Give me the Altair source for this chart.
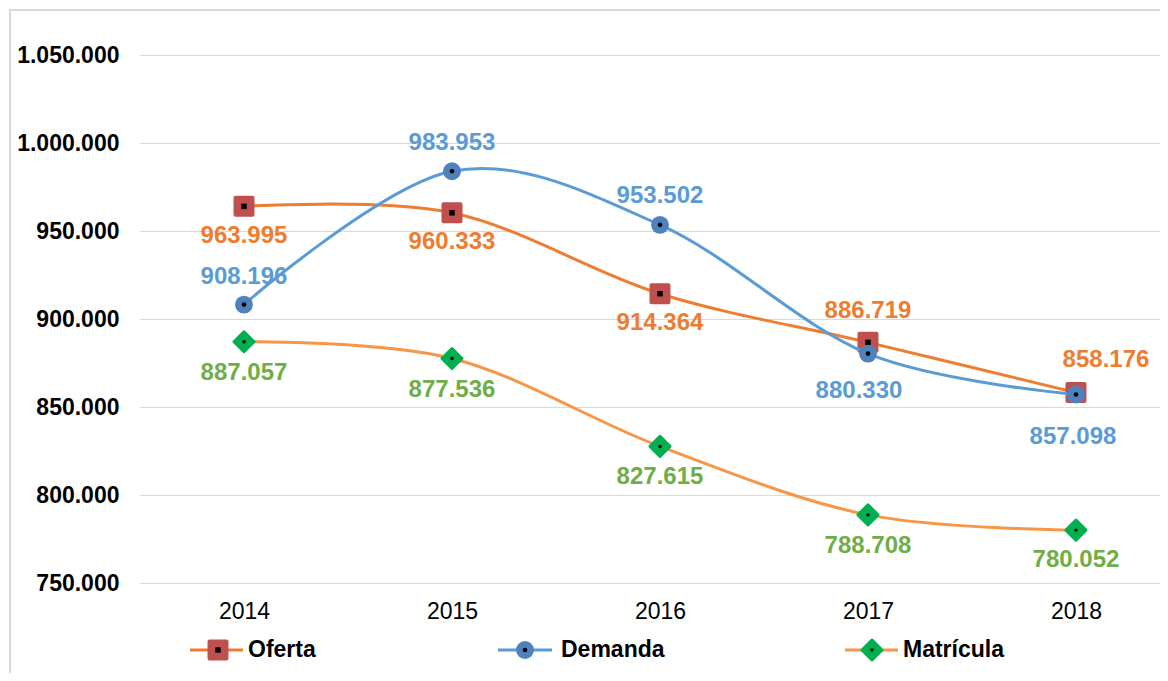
import altair as alt
import pandas as pd

# ---- data ----
years = [2014, 2015, 2016, 2017, 2018]
oferta = [963995, 960333, 914364, 886719, 858176]
demanda = [908196, 983953, 953502, 880330, 857098]
matricula = [887057, 877536, 827615, 788708, 780052]
series_names = ["Oferta", "Demanda", "Matrícula"]
y_ticks = [750000, 800000, 850000, 900000, 950000, 1000000, 1050000]

df = pd.DataFrame({
    "year": years * 3,
    "value": oferta + demanda + matricula,
    "serie": [series_names[0]] * 5 + [series_names[1]] * 5 + [series_names[2]] * 5,
})
legend_df = pd.DataFrame({"serie": series_names})
frame_df = pd.DataFrame({"k": [0]})

FONT = "Liberation Sans"

# ---- styles ----
STYLE = {
    "Oferta": dict(line="#ED7D31", fill="#C0504D", label="#ED7D31", shape="square",
                   size=289, sw=4, dot_shape="square", dot_size=30),
    "Demanda": dict(line="#5B9BD5", fill="#4F81BD", label="#5B9BD5", shape="circle",
                    size=320, sw=0, dot_shape="circle", dot_size=22),
    "Matrícula": dict(line="#F79646", fill="#00B050", label="#70AD47", shape="diamond",
                      size=400, sw=3, dot_shape="circle", dot_size=12),
}
# label offsets (dx, dy) per series and year
LABEL_OFF = {
    "Oferta": [(0, 30), (0, 29), (0, 29), (0, -31), (30, -33)],
    "Demanda": [(0, -28), (0, -28), (0, -29), (-9, 37), (-3, 42)],
    "Matrícula": [(0, 31), (0, 31), (0, 31), (0, 31), (0, 30)],
}
# legend layout (plot coordinates): line start, line end, marker x, text x
LEGEND_POS = {
    "Oferta": (50, 103, 78, 108),
    "Demanda": (358, 412, 385, 421),
    "Matrícula": (705, 758, 732, 763),
}
LEGEND_Y = 595

label_expr = "replace(format(datum.value, ','), regexp(',', 'g'), '.')"

X = alt.X(
    "year:Q",
    scale=alt.Scale(domain=[2013.5, 2018.404], nice=False, zero=False),
    axis=alt.Axis(values=years, format="d", title=None, grid=False, domain=False,
                  ticks=False, labelFontSize=23, labelFont=FONT, labelColor="#000000",
                  labelPadding=17, labelFontWeight="normal"),
)
Y = alt.Y(
    "value:Q",
    scale=alt.Scale(domain=[750000, 1050000], nice=False, zero=False),
    axis=alt.Axis(values=y_ticks, title=None, grid=True, gridColor="#D9D9D9",
                  gridWidth=1.2, domain=False, ticks=False, labelFontSize=23,
                  labelFont=FONT, labelFontWeight="bold", labelColor="#000000",
                  labelPadding=21, labelExpr=label_expr),
)

base = alt.Chart(df)

layers = []

# outer frame
layers.append(
    alt.Chart(frame_df).mark_rect(fillOpacity=0, stroke="#D9D9D9", strokeWidth=2).encode(
        x=alt.value(-130), x2=alt.value(1040), y=alt.value(-45), y2=alt.value(660)
    )
)

for s in series_names:
    st = STYLE[s]
    sub = base.transform_filter(alt.datum.serie == s)
    layers.append(
        sub.mark_line(interpolate="cardinal", strokeWidth=3, color=st["line"]).encode(x=X, y=Y)
    )
    pt_kwargs = dict(shape=st["shape"], size=st["size"], filled=True, fill=st["fill"],
                     opacity=1)
    if st["sw"] > 0:
        pt_kwargs.update(stroke=st["fill"], strokeWidth=st["sw"], strokeJoin="round")
    layers.append(sub.mark_point(**pt_kwargs).encode(x=X, y=Y))
    layers.append(
        sub.mark_point(shape=st["dot_shape"], size=st["dot_size"], filled=True,
                       fill="#000000", opacity=1).encode(x=X, y=Y)
    )

# data labels
for s in series_names:
    st = STYLE[s]
    for yr, (dx, dy) in zip(years, LABEL_OFF[s]):
        layers.append(
            base.transform_filter((alt.datum.serie == s) & (alt.datum.year == yr))
            .transform_calculate(lbl=label_expr)
            .mark_text(font=FONT, fontSize=24, fontWeight="bold", color=st["label"],
                       dx=dx, dy=dy, baseline="middle", align="center")
            .encode(x=X, y=Y, text="lbl:N")
        )

# custom legend
for s in series_names:
    st = STYLE[s]
    x1, x2, xm, xt = LEGEND_POS[s]
    lsub = alt.Chart(legend_df).transform_filter(alt.datum.serie == s)
    layers.append(
        lsub.mark_rule(strokeWidth=3, color=st["line"]).encode(
            x=alt.value(x1), x2=alt.value(x2), y=alt.value(LEGEND_Y))
    )
    pt_kwargs = dict(shape=st["shape"], size=st["size"], filled=True, fill=st["fill"],
                     opacity=1)
    if st["sw"] > 0:
        pt_kwargs.update(stroke=st["fill"], strokeWidth=st["sw"], strokeJoin="round")
    layers.append(lsub.mark_point(**pt_kwargs).encode(x=alt.value(xm), y=alt.value(LEGEND_Y)))
    layers.append(
        lsub.mark_point(shape=st["dot_shape"], size=st["dot_size"], filled=True,
                        fill="#000000", opacity=1).encode(x=alt.value(xm), y=alt.value(LEGEND_Y))
    )
    layers.append(
        lsub.mark_text(font=FONT, fontSize=23, fontWeight="bold", color="#000000",
                       align="left", baseline="middle").encode(
            x=alt.value(xt), y=alt.value(LEGEND_Y), text="serie:N")
    )

chart = (
    alt.layer(*layers)
    .properties(
        width=1020,
        height=528,
        autosize=alt.AutoSizeParams(type="none"),
        padding={"left": 132, "top": 47, "right": 0, "bottom": 90},
        background="#FFFFFF",
    )
    .configure_view(strokeWidth=0)
)

chart.save("out.html", embed_options={"renderer": "svg", "actions": False})
